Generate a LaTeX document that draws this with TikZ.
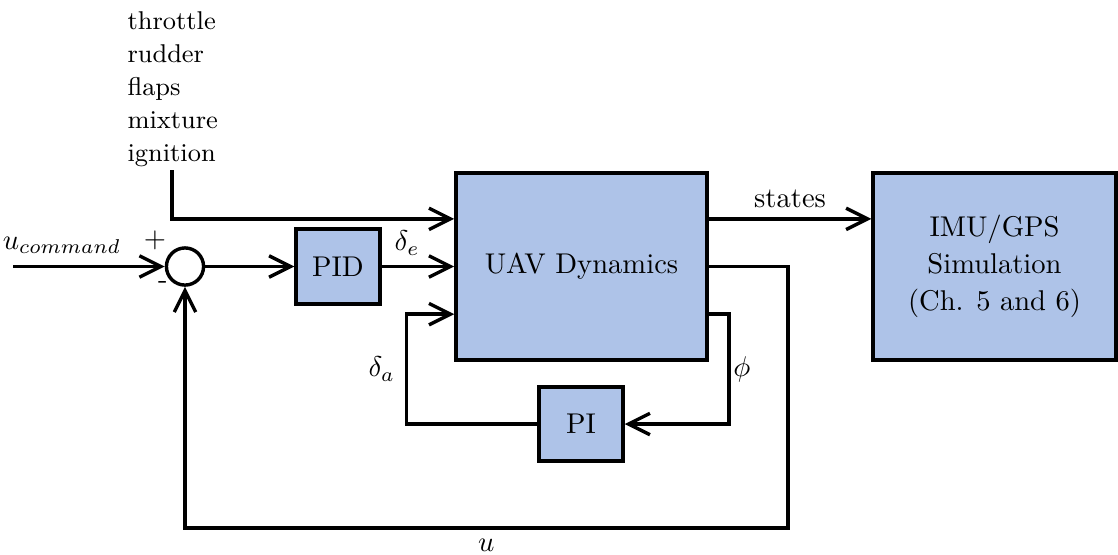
\documentclass[tikz,border=0pt]{standalone}
\usepackage{amsmath}
\usetikzlibrary{arrows.meta,positioning,calc}
\definecolor{blockfill}{HTML}{AEC3E8}
\tikzset{block/.style={draw=black,very thick,fill=blockfill,inner sep=0pt,align=center},
  sumnode/.style={circle,draw=black,very thick,fill=white,minimum size=13pt,inner sep=0pt},
  wire/.style={very thick,draw=black}}

\begin{document}
\begin{tikzpicture}[x=.35pt,y=-.35pt,>={Straight Barb[length=7.5pt,width=7.5pt]}]
\useasboundingbox (0,0) rectangle (1118,554);
% blocks
\node[block,minimum width=87.9pt,minimum height=65.5pt] (uav) at (581.5,266.5) {UAV Dynamics};
\node[block,minimum width=29.4pt,minimum height=26.3pt] (pid) at (338,266.5) {PID};
\node[block,minimum width=29.4pt,minimum height=25.9pt] (pi) at (581,424) {PI};
\node[block,minimum width=85pt,minimum height=65.5pt] (imu) at (994.5,266.5) {IMU/GPS\\[1pt]Simulation\\[1pt](Ch. 5 and 6)};
\node[sumnode] (sum) at (185,266.5) {};
% inputs
\node[anchor=north west,inner sep=0pt,align=left,font={\fontsize{9}{11.6}\selectfont}] (ctrl) at (127,11)
  {throttle\\rudder\\flaps\\mixture\\ignition};
\coordinate (ig) at (172,170);
\coordinate (uin) at (13,266.5);
\node (ucmd) at (62,245) {$u_{command}$};
\node (plus) at (155,240) {$+$};
\node (minus) at (163,285) {-};
% connectors
\draw[wire,->] (uin) -- (sum.west);
\draw[wire,->] (sum) -- (pid);
\draw[wire,->] (pid) -- node[above,pos=.35] {$\delta_e$} (uav);
\draw[wire,->] (ig) |- ($(uav.north west)!.25!(uav.south west)$);
\draw[wire,->] ($(uav.north east)!.25!(uav.south east)$) -- node[above] {states}
  ($(imu.north west)!.25!(imu.south west)$);
\draw[wire,->] ($(uav.north east)!.75!(uav.south east)$) -- ++(20,0)
  |- node[pos=.25,right,inner sep=1pt] {$\phi$} (pi.east);
\draw[wire,->] (pi.west) -- ++(-131,0)
  |- node[pos=.25,left] {$\delta_a$} ($(uav.north west)!.75!(uav.south west)$);
\draw[wire,->] (uav.east) -- ++(79,0) -- ++(0,261.5)
  -| node[pos=.25,below] {$u$} (sum.south);
\end{tikzpicture}
\end{document}
